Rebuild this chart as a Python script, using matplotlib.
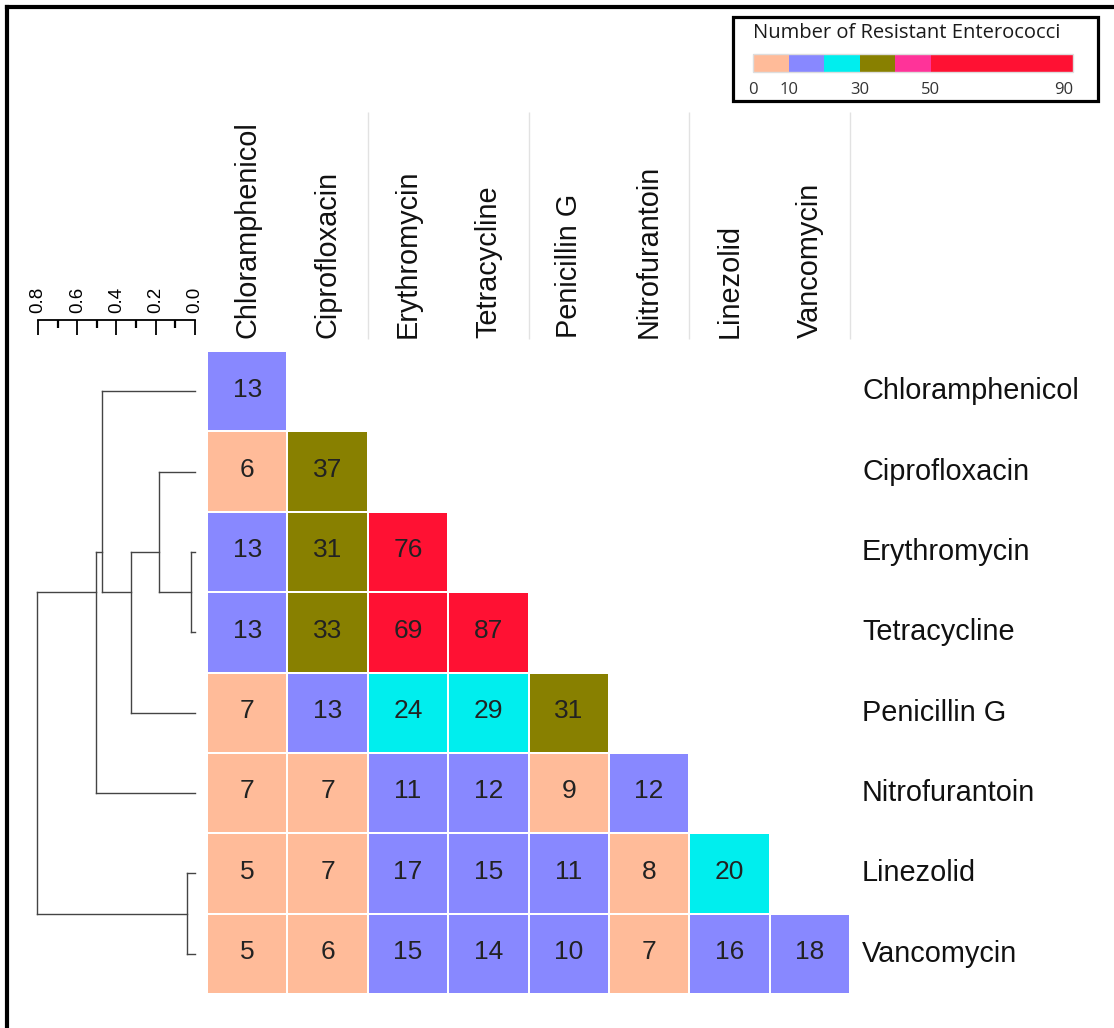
import matplotlib as mpl
import matplotlib.pyplot as plt
import numpy as np
from matplotlib.colors import BoundaryNorm, ListedColormap
from matplotlib.lines import Line2D
from matplotlib.patches import Rectangle

W, H = 1114, 1028

DRUGS = ["Chloramphenicol", "Ciprofloxacin", "Erythromycin", "Tetracycline",
         "Penicillin G", "Nitrofurantoin", "Linezolid", "Vancomycin"]

# lower triangle, row by row
ROW_VALUES = [
    [13],
    [6, 37],
    [13, 31, 76],
    [13, 33, 69, 87],
    [7, 13, 24, 29, 31],
    [7, 7, 11, 12, 9, 12],
    [5, 7, 17, 15, 11, 8, 20],
    [5, 6, 15, 14, 10, 7, 16, 18],
]

BOUNDS = [0, 10, 20, 30, 40, 50, 90]
BIN_COLORS = ["#FFBB99", "#8888FF", "#00EEEE", "#888000", "#FF3399", "#FF1133"]
LEGEND_TICKS = [0, 10, 30, 50, 90]

# dendrogram: leaves 0-7, merge k creates node 8+k
MERGE_LEFT = [2, 1, 9, 0, 11, 6, 12]
MERGE_RIGHT = [3, 8, 4, 10, 5, 7, 13]
MERGE_HEIGHT = [0.020, 0.183, 0.326, 0.474, 0.504, 0.040, 0.805]
MERGE_POS = [2.5, 2.0, 2.5, 2.0, 2.5, 6.5, 4.5]

mpl.rcParams["font.family"] = ["Liberation Sans", "DejaVu Sans"]


def px_rect(x0, y0, x1, y1):
    return [x0 / W, 1 - y1 / H, (x1 - x0) / W, (y1 - y0) / H]


fig = plt.figure(figsize=(W / 100, H / 100), dpi=100)

# heatmap
n = len(DRUGS)
mat = np.full((n, n), np.nan)
for i, row in enumerate(ROW_VALUES):
    mat[i, :len(row)] = row
cmap = ListedColormap(BIN_COLORS)
norm = BoundaryNorm(BOUNDS, cmap.N)

ax = fig.add_axes(px_rect(207, 351, 850, 994))
ax.pcolormesh(np.arange(n + 1), np.arange(n + 1), np.ma.masked_invalid(mat),
              cmap=cmap, norm=norm, edgecolors="white", linewidth=1.3)
ax.set_xlim(0, n)
ax.set_ylim(n, 0)
ax.axis("off")
for i, row in enumerate(ROW_VALUES):
    for j, v in enumerate(row):
        ax.text(j + 0.5, i + 0.48, str(v), ha="center", va="center",
                fontsize=19, color="#222222")
for j, name in enumerate(DRUGS):
    ax.text(j + 0.5, -0.16, name, rotation=90, ha="center", va="bottom",
            fontsize=20.8, color="#111111")
    ax.text(n + 0.15, j + 0.5, name, ha="left", va="center",
            fontsize=20.8, color="#111111")
ax.vlines([2, 4, 6, 8], -2.97, -0.15, colors="#e2e2e2", lw=1, clip_on=False)

# dendrogram
xl = (0.8408, -0.051)
axd = fig.add_axes(px_rect(30, 351, 205, 994))
axd.set_xlim(*xl)
axd.set_ylim(n, 0)
axd.axis("off")
pos = list(range(n)) + MERGE_POS
hgt = [0.0] * n + MERGE_HEIGHT
for k, (l, r) in enumerate(zip(MERGE_LEFT, MERGE_RIGHT)):
    h = MERGE_HEIGHT[k]
    for c in (l, r):
        axd.plot([hgt[c], h], [pos[c] + 0.5, pos[c] + 0.5], color="#444444", lw=1)
    axd.plot([h, h], [pos[l] + 0.5, pos[r] + 0.5], color="#444444", lw=1)

# scale for dendrogram heights
axs = fig.add_axes(px_rect(30, 320, 205, 340))
axs.set_xlim(*xl)
axs.set_facecolor("none")
for s in ["left", "right", "bottom"]:
    axs.spines[s].set_visible(False)
axs.spines["top"].set_bounds(0, 0.8)
axs.spines["top"].set_linewidth(1.3)
axs.xaxis.tick_top()
axs.set_xticks([0.0, 0.2, 0.4, 0.6, 0.8])
axs.set_xticklabels(["0.0", "0.2", "0.4", "0.6", "0.8"], rotation=90, fontsize=13.5)
axs.set_xticks([0.1, 0.3, 0.5, 0.7], minor=True)
axs.tick_params(axis="x", which="major", direction="in", length=11, width=1.3, pad=5)
axs.tick_params(axis="x", which="minor", direction="in", length=6, width=1.6)
axs.set_yticks([])

# legend
fig.add_artist(Rectangle((733 / W, 1 - 101 / H), (1098 - 733) / W, (101 - 17) / H,
                         transform=fig.transFigure, fill=False, lw=2.3, edgecolor="black"))
fig.text(753 / W, 1 - 33 / H, "Number of Resistant Enterococci", ha="left", va="center",
         fontsize=14.5, family=["Open Sans", "DejaVu Sans"], color="#1a1a1a")
cax = fig.add_axes(px_rect(753, 54, 1073, 72))
cb = mpl.colorbar.ColorbarBase(cax, cmap=cmap, norm=norm, boundaries=BOUNDS,
                               spacing="proportional", orientation="horizontal",
                               ticks=LEGEND_TICKS)
cb.minorticks_off()
cb.outline.set_edgecolor("#dddddd")
cb.outline.set_linewidth(1)
cax.tick_params(which="both", length=0, pad=7, labelsize=12, labelcolor="#333333")
for t in cax.get_xticklabels():
    t.set_family(["Open Sans", "DejaVu Sans"])
cax.get_xticklabels()[-1].set_ha("right")

# outer frame
fig.add_artist(Line2D([7 / W, 7 / W], [0, 1 - 7 / H], transform=fig.transFigure,
                      color="black", lw=3, solid_capstyle="projecting"))
fig.add_artist(Line2D([7 / W, 1], [1 - 7 / H, 1 - 7 / H], transform=fig.transFigure,
                      color="black", lw=3, solid_capstyle="projecting"))

fig.savefig("out.png", dpi=100)
